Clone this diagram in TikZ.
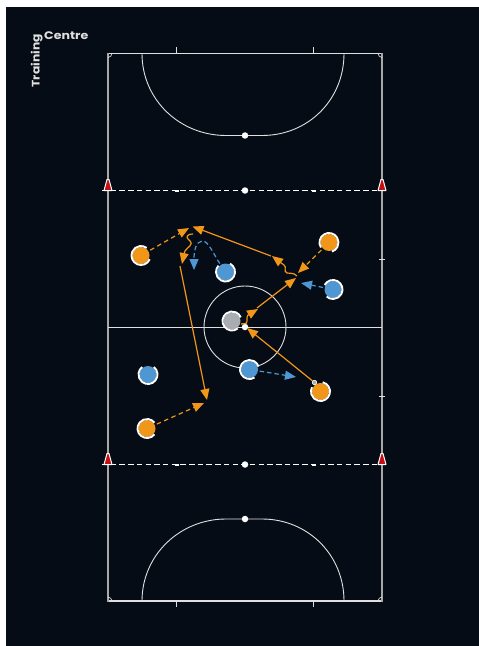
\documentclass[tikz,border=0pt]{standalone}
\usepackage{fontspec}
\usepackage{graphicx}
\setmainfont{Poppins}
\usetikzlibrary{arrows.meta}
\definecolor{bgd}{HTML}{060C16}
\definecolor{lin}{HTML}{E0E0E0}
\definecolor{sidel}{HTML}{A8A8A8}
\definecolor{oran}{HTML}{F09618}
\definecolor{blu}{HTML}{4E97D2}
\definecolor{gry}{HTML}{A9ADB2}
\definecolor{rd}{HTML}{C40F14}
\tikzset{
 x=1bp,y=-1bp,
 field/.style={draw=lin,line width=0.9bp},
 topl/.style={draw=lin,line width=1.2bp},
 sidep/.style={draw=sidel,line width=1.7bp},
 halfway/.style={draw=white,line width=1.3bp,dash pattern=on 5.5bp off 3.2bp},
 ball/.style={circle,fill=white,inner sep=0pt,minimum size=6.5bp},
 runo/.style={draw=oran,line width=1.2bp,-{Triangle[length=11bp,width=9bp]}},
 dasho/.style={runo,dash pattern=on 4.5bp off 3.5bp,shorten <=2bp},
 wigo/.style={runo},
 dashb/.style={draw=blu,line width=1.2bp,dash pattern=on 4.5bp off 3bp,-{Triangle[length=11bp,width=9bp]},shorten <=1.5bp},
 ply/.style={circle,inner sep=0pt,minimum size=17bp},
 ring/.style={draw=white,line width=1.9bp},
 cone/.style={draw=white,line width=1bp,fill=rd,line join=round},
 txt/.style={text=lin,font=\bfseries\fontsize{11}{12}\selectfont,inner sep=0pt}
}
\newcommand{\plyr}[5]{%name,x,y,colour,gap angle (screen, clockwise from east)
 \node[ply,fill=#4] (#1) at (#2,#3) {};
 \draw[ring] ({#2+9.5*cos(#5+38)},{#3+9.5*sin(#5+38)}) arc[start angle=#5+38,end angle=#5+322,radius=9.5];
}
\begin{document}
\begin{tikzpicture}
\useasboundingbox (0,0) rectangle (479,646);
\fill[white] (0,0) rectangle (479,646);
\fill[bgd] (6,7) rectangle (479,646);
% text
\node[txt,anchor=base west] (c) at (44,39.5) {\scalebox{1.15}[1]{Centre}};
\node[txt,anchor=base west,rotate=90] (t) at (39.5,87.5) {\scalebox{1.12}[1]{Training}};
% field
\draw[topl] (108,53.5) -- (382,53.5);
\draw[topl] (108,601) -- (382,601);
\draw[sidep] (108,53) -- (108,601.5);
\draw[sidep] (382,53) -- (382,601.5);
\draw[field] (142,53.5) .. controls (142,100) and (180,135.5) .. (226,135.5) -- (262,135.5) .. controls (308,135.5) and (344,100) .. (344,53.5);
\draw[field] (142,601) .. controls (142,555) and (180,519) .. (226,519) -- (262,519) .. controls (308,519) and (344,555) .. (344,601);
\draw[field] (108,327) -- (382,327);
\draw[field] (245,327) circle[radius=41];
\draw[halfway] (102,190.5) -- (388,190.5);
\draw[halfway] (102,464.5) -- (388,464.5);
\foreach \n/\px/\py in {a/245/135.5,b/245/190.5,d/245/327,e/245/464.5,f/245/519}
 \node[ball] (\n) at (\px,\py) {};
\foreach \px in {176.5,313.5}{
 \draw[field] (\px,47.5) -- (\px,53.5);
 \draw[field] (\px,601) -- (\px,607);
 \fill[white] (\px-2,189.5) rectangle (\px+2,191.5);
 \fill[white] (\px-2,463.5) rectangle (\px+2,465.5);
}
\foreach \py in {259,396}{
 \draw[field] (379,\py) -- (385,\py);
}
\foreach \px/\py/\sx/\sy in {108/53.5/1/1,382/53.5/-1/1,108/601/1/-1,382/601/-1/-1}{
 \draw[lin,line width=0.7bp] (\px+\sx*4,\py) .. controls (\px+\sx*4,\py+\sy*2) and (\px+\sx*2,\py+\sy*4) .. (\px,\py+\sy*4);
}
\foreach \px/\py in {108/190.5,382/190.5,108/464.5,382/464.5}
 \draw[cone] (\px-4,\py) -- (\px-1,\py-11) -- (\px+1,\py-11) -- (\px+4,\py) -- cycle;
% players
\plyr{p1}{141}{255.5}{oran}{-15}
\plyr{p2}{329}{242.5}{oran}{110}
\plyr{p3}{320.5}{391.5}{oran}{-115}
\plyr{p4}{147}{428.5}{oran}{0}
\plyr{b1}{225.5}{272}{blu}{-100}
\plyr{b2}{333}{289.5}{blu}{170}
\plyr{b3}{148}{374.5}{blu}{-90}
\plyr{b4}{249.5}{369.5}{blu}{20}
\plyr{g1}{232}{321}{gry}{15}
% ball at orange player
\node[circle,draw=white,fill=gry,line width=0.6bp,inner sep=0pt,minimum size=4.5bp] (fb) at (314.5,382.5) {};
% free ends
\coordinate (k1) at (189,228);
\coordinate (k2) at (192.5,226.5);
\coordinate (k2s) at (271,256);
\coordinate (k3) at (182,264);
\coordinate (k4) at (194,270);
\coordinate (k5s) at (180,266);
\coordinate (k5) at (207,400);
\coordinate (k5d) at (204,403);
\coordinate (k6) at (272,256);
\coordinate (k7) at (298,273);
\coordinate (k8) at (296,278);
\coordinate (k8s) at (257,308);
\coordinate (k9) at (301,283);
\coordinate (k10) at (296,377);
\coordinate (k11) at (247,328);
\coordinate (k12) at (258,309);
\coordinate (w1) at (193,234);
\coordinate (w2) at (297,276);
\coordinate (w3) at (241,324);
% connectors
\draw[dasho] (p1) -- (k1);
\draw[dasho] (p4) -- (k5d);
\draw[dasho] (p2) -- (k7);
\draw[runo] (k2s) -- (k2);
\draw[runo] (k5s) -- (k5);
\draw[runo] (fb) -- (k11);
\draw[runo] (k8s) -- (k8);
\draw[wigo] (w1) .. controls (186,234) and (186,238) .. (189,240) .. controls (195,245) and (187,247) .. (185,251) .. controls (183,255) and (183,259) .. (k3);
\draw[wigo] (w2) .. controls (293,272) and (290,274) .. (287,273) .. controls (283,271) and (287,267) .. (284,265) .. controls (281,263) and (276,259) .. (k6);
\draw[wigo] (w3) -- (246,323.5) .. controls (248,322) and (246,317) .. (248,315) -- (k12);
\draw[dashb] (b1) .. controls (214,255) and (208,240) .. (202,241) .. controls (196,242) and (194,250) .. (k4);
\draw[dashb] (b2) -- (k9);
\draw[dashb] (b4) -- (k10);
\end{tikzpicture}
\end{document}
